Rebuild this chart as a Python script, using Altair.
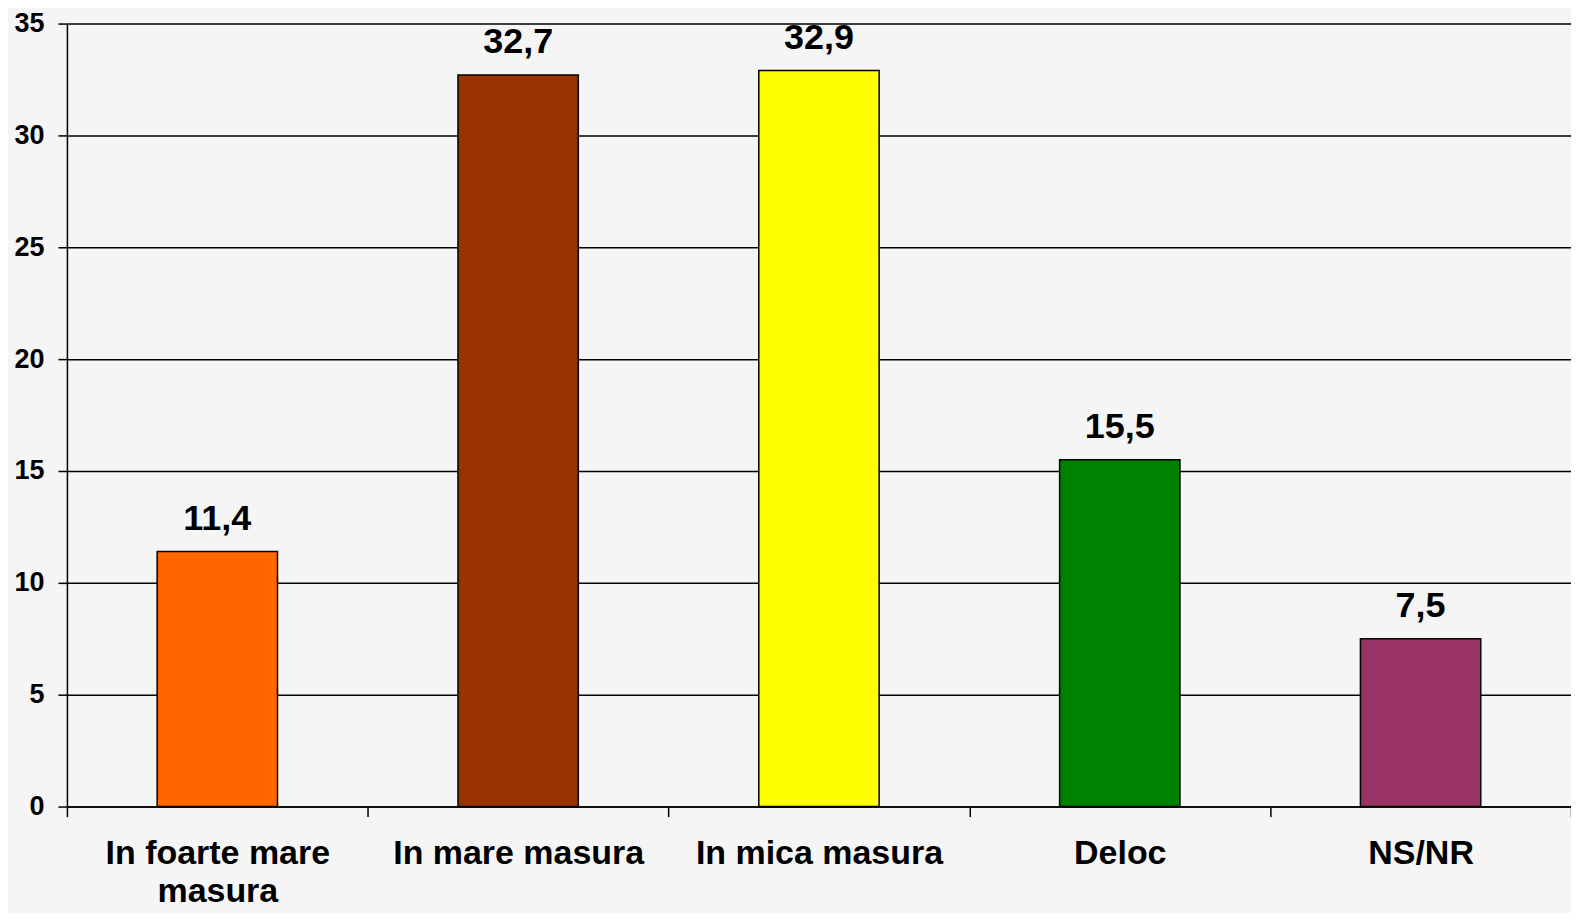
import altair as alt
import pandas as pd

categories = ["In foarte mare masura", "In mare masura", "In mica masura", "Deloc", "NS/NR"]
values = [11.4, 32.7, 32.9, 15.5, 7.5]
labels = ["11,4", "32,7", "32,9", "15,5", "7,5"]
colors = ["#FF6600", "#993300", "#FFFF00", "#008000", "#993366"]
y_ticks = [0, 5, 10, 15, 20, 25, 30, 35]

df = pd.DataFrame({"cat": categories, "val": values, "lab": labels})

W, H = 1506, 784
FONT = "Liberation Sans"

x = alt.X(
    "cat:N",
    sort=categories,
    scale=alt.Scale(paddingInner=0, paddingOuter=0),
    axis=alt.Axis(
        title=None,
        labelAngle=0,
        labelFont=FONT,
        labelFontWeight="bold",
        labelFontSize=34,
        labelColor="black",
        labelBaseline="alphabetic",
        labelPadding=47,
        labelLineHeight=38,
        labelLimit=600,
        tickBand="extent",
        tickSize=10,
        tickColor="black",
        tickWidth=1.5,
        domainColor="black",
        domainWidth=1.5,
        labelExpr="datum.label == 'In foarte mare masura' ? ['In foarte mare', 'masura'] : datum.label",
    ),
)
y = alt.Y(
    "val:Q",
    scale=alt.Scale(domain=[0, 35], nice=False),
    axis=alt.Axis(
        title=None,
        values=y_ticks,
        labelFont=FONT,
        labelFontWeight="bold",
        labelFontSize=27,
        labelColor="black",
        labelPadding=14,
        tickSize=9,
        tickColor="black",
        tickWidth=1.5,
        domainColor="black",
        domainWidth=1.5,
        grid=True,
        gridColor="black",
        gridWidth=1.5,
        gridOpacity=1,
    ),
)

bars = alt.Chart(df).mark_bar(stroke="black", strokeWidth=1.5, width=alt.RelativeBandSize(0.4)).encode(
    x=x,
    y=y,
    color=alt.Color("cat:N", sort=categories, scale=alt.Scale(domain=categories, range=colors), legend=None),
)
text = alt.Chart(df).mark_text(
    font=FONT, fontWeight="bold", fontSize=36, color="black", baseline="alphabetic", dy=-22
).encode(x=alt.X("cat:N", sort=categories), y="val:Q", text="lab:N")

chart = (
    alt.layer(bars, text)
    .properties(
        width=W,
        height=H,
        autosize=alt.AutoSizeParams(type="none"),
        padding={"left": 59, "top": 15, "right": 0, "bottom": 106},
        background="#f5f5f5",
    )
    .configure_view(stroke=None)
)

chart.save("out.html", embed_options={"renderer": "svg", "actions": False})
